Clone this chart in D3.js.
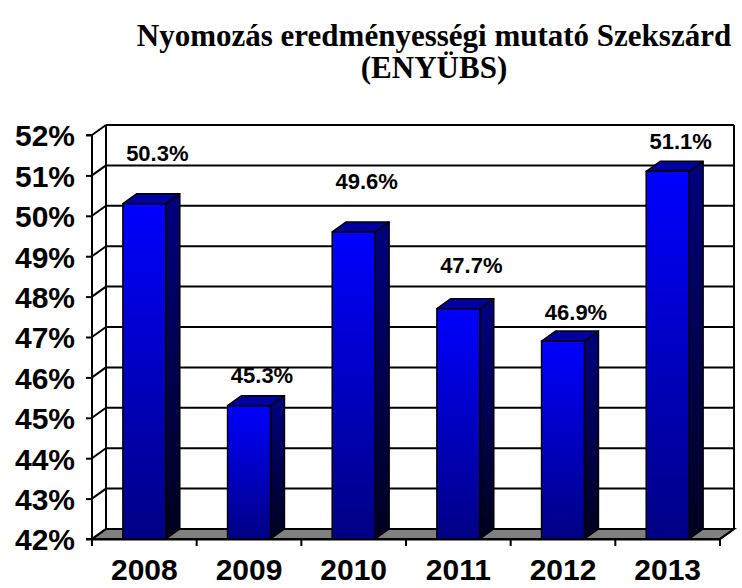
<!DOCTYPE html>
<html>
<head>
<meta charset="utf-8">
<script src="https://cdn.jsdelivr.net/npm/d3@7"></script>
<style>
body { margin:0; background:white; }
svg { display:block; }
</style>
</head>
<body>
<svg id="chart"></svg>
<script>
// chart values
var years = ["2008", "2009", "2010", "2011", "2012", "2013"]
var rates = [50.3, 45.3, 49.6, 47.7, 46.9, 51.1]
var labelLift = [1.25, 0.76, 1.26, 1.08, 0.72, 0.75]   // how far above each bar its label sat
var yTicks = [42, 43, 44, 45, 46, 47, 48, 49, 50, 51, 52]
var titleLines = ["Nyomozás eredményességi mutató Szekszárd", "(ENYÜBS)"]

var initGraph = function(target)
{
    var screen = {width:742, height:588}
    var depth = {x:14, y:-10}

    var svg = d3.select(target)
        .attr("width", screen.width)
        .attr("height", screen.height)

    var defs = svg.append("defs")
    var addGrad = function(id, top, bottom)
    {
        var g = defs.append("linearGradient")
            .attr("id", id)
            .attr("x1", 0).attr("y1", 0)
            .attr("x2", 0).attr("y2", 1)
        g.append("stop").attr("offset", "0%").attr("stop-color", top)
        g.append("stop").attr("offset", "100%").attr("stop-color", bottom)
    }
    addGrad("frontGrad", "#0000ff", "#000084")
    addGrad("sideGrad", "#000080", "#00001e")

    var xScale = d3.scaleBand()
        .domain(years)
        .range([92, 720])

    var yScale = d3.scaleLinear()
        .domain([42, 52])
        .range([539, 135])

    var x0 = xScale.range()[0]
    var x1 = xScale.range()[1]
    var yTop = yScale(52)
    var yBot = yScale(42)

    // floor
    svg.append("path")
        .attr("d", "M" + x0 + "," + yBot + "L" + x1 + "," + yBot
            + "L" + (x1 + depth.x) + "," + (yBot + depth.y)
            + "L" + (x0 + depth.x) + "," + (yBot + depth.y) + "Z")
        .attr("fill", "#808080")
        .attr("stroke", "black")
        .attr("stroke-width", 2)

    // back wall gridlines and left wall diagonals
    var grid = svg.append("g")
        .attr("stroke", "black")
        .attr("stroke-width", 2)
        .attr("fill", "none")

    grid.selectAll("line.h")
        .data(yTicks)
        .enter()
        .append("line")
        .attr("x1", x0 + depth.x)
        .attr("x2", x1 + depth.x)
        .attr("y1", function(d) { return yScale(d) + depth.y })
        .attr("y2", function(d) { return yScale(d) + depth.y })

    grid.selectAll("line.d")
        .data(yTicks)
        .enter()
        .append("line")
        .attr("x1", x0)
        .attr("x2", x0 + depth.x)
        .attr("y1", function(d) { return yScale(d) })
        .attr("y2", function(d) { return yScale(d) + depth.y })

    grid.append("line")
        .attr("x1", x0 + depth.x).attr("x2", x0 + depth.x)
        .attr("y1", yTop + depth.y).attr("y2", yBot + depth.y)
    grid.append("line")
        .attr("x1", x1 + depth.x).attr("x2", x1 + depth.x)
        .attr("y1", yTop + depth.y).attr("y2", yBot + depth.y)
    grid.append("line")
        .attr("x1", x1).attr("x2", x1 + depth.x)
        .attr("y1", yBot).attr("y2", yBot + depth.y)

    // y axis
    var yAxis = d3.axisLeft(yScale)
        .tickValues(yTicks)
        .tickSize(6)
        .tickPadding(11)
        .tickFormat(function(d) { return d + "%" })

    svg.append("g")
        .attr("transform", "translate(" + x0 + ",0)")
        .call(yAxis)
        .call(function(g)
        {
            g.selectAll("path, line").attr("stroke", "black").attr("stroke-width", 2)
            g.select(".domain").attr("d", "M-6," + yTop + "H0V" + yBot + "H-6")
            g.selectAll("text")
                .attr("fill", "black")
                .attr("font-family", "Liberation Sans, Arial, sans-serif")
                .attr("font-weight", "bold")
                .attr("font-size", 30)
                .attr("dy", "0.36em")
        })

    // x axis
    var xAxis = d3.axisBottom(xScale)
        .tickSize(0)

    svg.append("g")
        .attr("transform", "translate(0," + yBot + ")")
        .call(xAxis)
        .call(function(g)
        {
            g.select(".domain").attr("stroke", "black").attr("stroke-width", 2)
            g.selectAll("text")
                .attr("fill", "black")
                .attr("font-family", "Liberation Sans, Arial, sans-serif")
                .attr("font-weight", "bold")
                .attr("font-size", 30)
                .attr("y", 41)
                .attr("dy", 0)
        })

    var boundaries = d3.range(years.length + 1).map(function(i)
    {
        return x0 + i * xScale.step()
    })
    svg.append("g")
        .selectAll("line")
        .data(boundaries)
        .enter()
        .append("line")
        .attr("x1", function(d) { return d })
        .attr("x2", function(d) { return d })
        .attr("y1", yBot)
        .attr("y2", yBot + 7)
        .attr("stroke", "black")
        .attr("stroke-width", 2)

    // bars
    var barW = xScale.bandwidth() * 0.41
    var barLeft = function(i) { return xScale(years[i]) + (xScale.bandwidth() - barW) / 2 }

    var bars = svg.append("g")
        .selectAll("g")
        .data(rates)
        .enter()
        .append("g")
        .attr("stroke", "black")
        .attr("stroke-width", 1.5)
        .attr("stroke-linejoin", "round")

    bars.append("path")
        .attr("fill", "url(#sideGrad)")
        .attr("d", function(d, i)
        {
            var l = barLeft(i) + barW
            var t = yScale(d)
            return "M" + l + "," + t + "L" + (l + depth.x) + "," + (t + depth.y)
                + "L" + (l + depth.x) + "," + (yBot + depth.y) + "L" + l + "," + yBot + "Z"
        })

    bars.append("path")
        .attr("fill", "#0000a0")
        .attr("d", function(d, i)
        {
            var l = barLeft(i)
            var t = yScale(d)
            return "M" + l + "," + t + "L" + (l + barW) + "," + t
                + "L" + (l + barW + depth.x) + "," + (t + depth.y)
                + "L" + (l + depth.x) + "," + (t + depth.y) + "Z"
        })

    bars.append("rect")
        .attr("x", function(d, i) { return barLeft(i) })
        .attr("y", function(d) { return yScale(d) })
        .attr("width", barW)
        .attr("height", function(d) { return yBot - yScale(d) })
        .attr("fill", "url(#frontGrad)")

    // value labels
    svg.append("g")
        .selectAll("text")
        .data(rates)
        .enter()
        .append("text")
        .attr("x", function(d, i) { return xScale(years[i]) + xScale.bandwidth() / 2 + 13 })
        .attr("y", function(d, i) { return yScale(d + labelLift[i]) })
        .attr("dy", "0.36em")
        .attr("text-anchor", "middle")
        .attr("font-family", "Liberation Sans, Arial, sans-serif")
        .attr("font-weight", "bold")
        .attr("font-size", 22)
        .attr("fill", "black")
        .text(function(d) { return d.toFixed(1) + "%" })

    // title
    svg.append("g")
        .selectAll("text")
        .data(titleLines)
        .enter()
        .append("text")
        .attr("x", 434)
        .attr("y", function(d, i) { return 46 + i * 32 })
        .attr("text-anchor", "middle")
        .attr("font-family", "Liberation Serif, Times New Roman, serif")
        .attr("font-weight", "bold")
        .attr("font-size", 31)
        .attr("fill", "black")
        .text(function(d) { return d })
}

initGraph("#chart")
</script>
</body>
</html>
